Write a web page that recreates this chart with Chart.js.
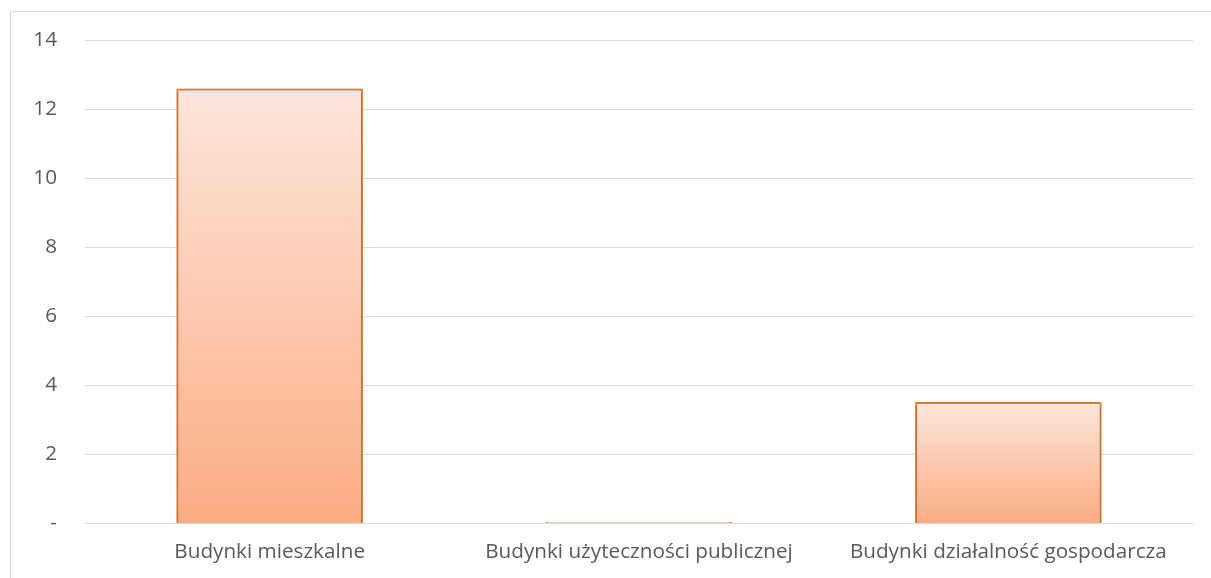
<!DOCTYPE html>
<html>
<head>
<meta charset="utf-8">
<script src="https://cdn.jsdelivr.net/npm/chart.js@4.4.1/dist/chart.umd.min.js"></script>
<style>
  html,body{margin:0;padding:0;background:#fff;}
  #wrap{width:1211px;height:578px;position:relative;}
</style>
</head>
<body>
<div id="wrap"><canvas id="chart"></canvas></div>
<script>
// dane
const categories = ["Budynki mieszkalne", "Budynki użyteczności publicznej", "Budynki działalność gospodarcza"];
const values = [12.61, 0.04, 3.52];
const yTicks = [0, 2, 4, 6, 8, 10, 12, 14];

const FONT = "'Open Sans'";
const TXT = "#595959";

// ramka wykresu (obszar wykresu w Excelu)
const framePlugin = {
  id: "frame",
  beforeDraw(chart){
    const c = chart.ctx;
    c.save();
    c.strokeStyle = "#d9d9d9";
    c.lineWidth = 1;
    c.strokeRect(10.5, 11.5, 1400, 800);
    c.restore();
  }
};

// lekki cień pod słupkami
const shadowPlugin = {
  id: "barShadow",
  beforeDatasetDraw(chart){
    const c = chart.ctx;
    c.save();
    c.shadowColor = "rgba(0,0,0,0.3)";
    c.shadowBlur = 4;
    c.shadowOffsetX = 0;
    c.shadowOffsetY = 1;
  },
  afterDatasetDraw(chart){ chart.ctx.restore(); }
};

function barGradient(ctx){
  const chart = ctx.chart;
  const y = chart.scales.y;
  if(!y || ctx.raw == null) return "#fcc4a5";
  const top = y.getPixelForValue(ctx.raw);
  const bottom = y.getPixelForValue(0);
  if(!isFinite(top) || !isFinite(bottom)) return "#fcc4a5";
  const g = chart.ctx.createLinearGradient(0, top, 0, Math.max(bottom, top+1));
  g.addColorStop(0, "rgb(253,230,219)");
  g.addColorStop(1, "rgb(251,172,131)");
  return g;
}

new Chart(document.getElementById("chart"), {
  type: "bar",
  data: {
    labels: categories,
    datasets: [{
      data: values,
      backgroundColor: barGradient,
      borderColor: "#ed7d31",
      borderWidth: 2,
      barPercentage: 0.505,
      categoryPercentage: 1
    }]
  },
  options: {
    responsive: true,
    maintainAspectRatio: false,
    animation: false,
    layout: { padding: { left: 10, right: 18, top: 39, bottom: 0 } },
    plugins: { legend: { display: false }, tooltip: { enabled: false } },
    scales: {
      x: {
        grid: { display: false, drawTicks: false },
        border: { display: false },
        ticks: { color: TXT, font: { family: FONT, size: 20.7 }, padding: 16, maxRotation: 0, autoSkip: false },
        afterFit(s){ s.height = 54.5; }
      },
      y: {
        min: 0, max: 14,
        afterBuildTicks(s){ s.ticks = yTicks.map(v => ({ value: v })); },
        grid: { color: "#d9d9d9", lineWidth: 1, drawTicks: false },
        border: { display: false },
        ticks: {
          color: TXT, font: { family: FONT, size: 20.7 }, padding: 28,
          callback: v => v === 0 ? "-" : String(v)
        },
        afterFit(s){ s.width = 75; }
      }
    }
  },
  plugins: [framePlugin, shadowPlugin]
});
</script>
</body>
</html>
